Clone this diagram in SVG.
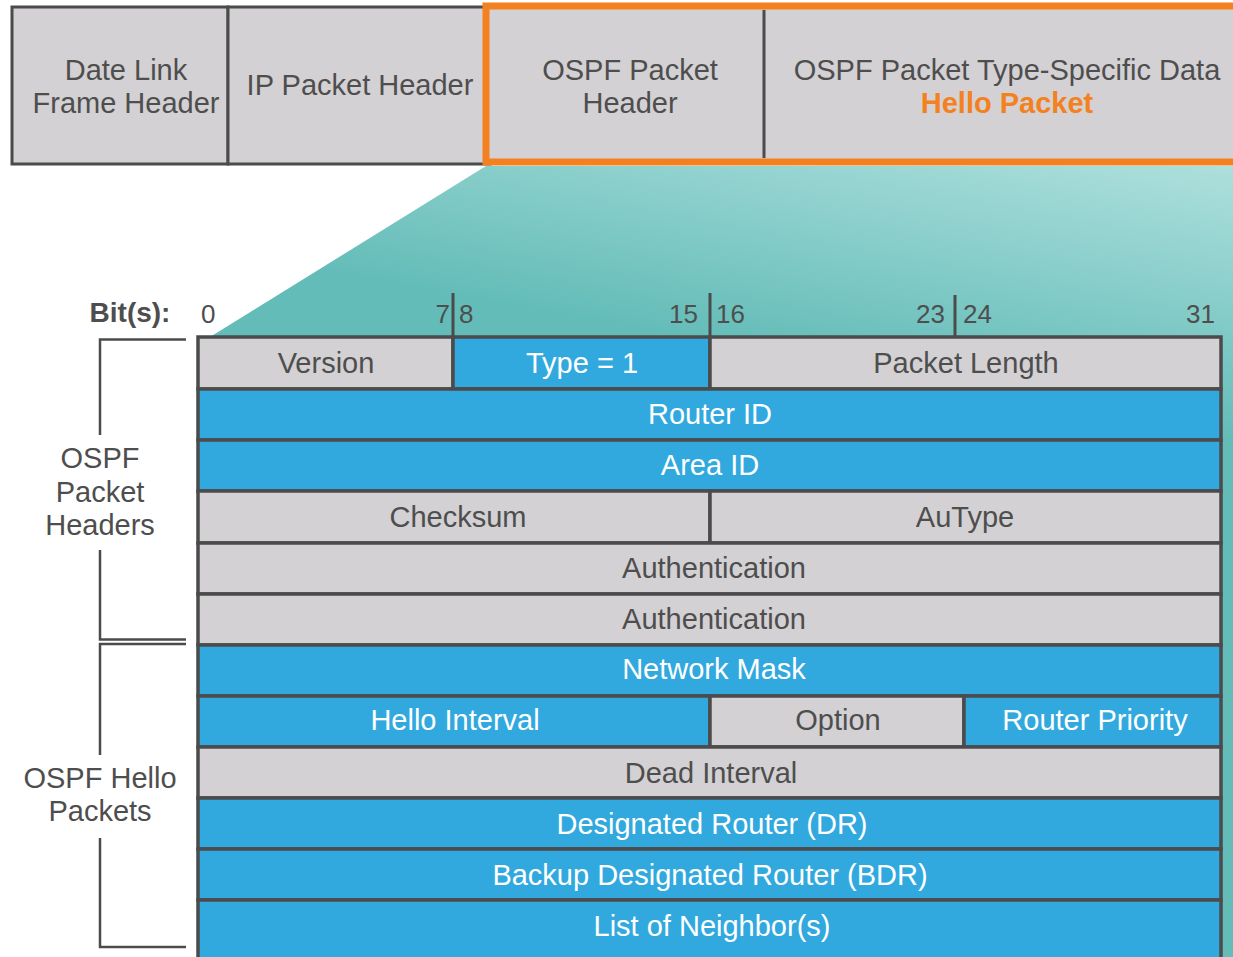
<svg xmlns="http://www.w3.org/2000/svg" width="1233" height="957" viewBox="0 0 1233 957">
<defs>
<linearGradient id="teal" gradientUnits="userSpaceOnUse" x1="1170" y1="150" x2="1120" y2="420">
<stop offset="0" stop-color="#afe0dd"/>
<stop offset="1" stop-color="#63bcb8"/>
</linearGradient>
<style>
text{font-family:"Liberation Sans",Arial,sans-serif;font-size:29px;text-anchor:middle;fill:#4e4e4e}
.w{fill:#ffffff}
.g{fill:#d3d1d3;stroke:#4b4b4b;stroke-width:3.5}
.b{fill:#32a9de;stroke:#4b4b4b;stroke-width:3.5}
.bit{font-size:26px}
.ln{stroke:#4b4b4b;stroke-width:2.5;fill:none}
.tk{stroke:#4b4b4b;stroke-width:3;fill:none}
</style>
</defs>
<rect width="1233" height="957" fill="#ffffff"/>
<polygon id="zoom-wedge" points="486,166 1233,166 1233,957 210,957 210,337" fill="url(#teal)"/>

<g id="top-frame">
<g id="data-link">
<rect x="12" y="7" width="216" height="157" fill="#d3d1d3" stroke="#4b4b4b" stroke-width="3"/>
<text x="126" y="80">Date Link</text>
<text x="126" y="113">Frame Header</text>
</g>
<g id="ip-header">
<rect x="228" y="7" width="262" height="157" fill="#d3d1d3" stroke="#4b4b4b" stroke-width="3"/>
<text x="360" y="95">IP Packet Header</text>
</g>
<g id="ospf-section">
<rect x="486" y="6" width="770" height="156" fill="#d3d1d3" stroke="#f48120" stroke-width="7"/>
<line x1="764" y1="10" x2="764" y2="158" stroke="#4b4b4b" stroke-width="3"/>
<text x="630" y="80">OSPF Packet</text>
<text x="630" y="113">Header</text>
<text x="1007" y="80">OSPF Packet Type-Specific Data</text>
<text x="1007" y="113" style="fill:#f48120;font-weight:bold">Hello Packet</text>
</g>
</g>

<g id="bits">
<text x="130" y="322" style="font-weight:bold;font-size:28px">Bit(s):</text>
<text class="bit" x="201" y="323" style="text-anchor:start">0</text>
<text class="bit" x="450" y="323" style="text-anchor:end">7</text>
<text class="bit" x="459" y="323" style="text-anchor:start">8</text>
<text class="bit" x="698" y="323" style="text-anchor:end">15</text>
<text class="bit" x="716" y="323" style="text-anchor:start">16</text>
<text class="bit" x="945" y="323" style="text-anchor:end">23</text>
<text class="bit" x="963" y="323" style="text-anchor:start">24</text>
<text class="bit" x="1215" y="323" style="text-anchor:end">31</text>
</g>

<g id="connectors">
<line class="tk" x1="453" y1="293" x2="453" y2="337"/>
<line class="tk" x1="710" y1="293" x2="710" y2="337"/>
<line class="tk" x1="955" y1="295" x2="955" y2="337"/>
<polyline class="ln" points="186,339.5 100,339.5 100,435"/>
<polyline class="ln" points="100,550 100,639.5 186,639.5"/>
<polyline class="ln" points="186,644 100,644 100,755"/>
<polyline class="ln" points="100,838 100,947 186,947"/>
</g>

<g id="label-headers">
<text x="100" y="468">OSPF</text>
<text x="100" y="502">Packet</text>
<text x="100" y="535">Headers</text>
</g>
<g id="label-hello">
<text x="100" y="788">OSPF Hello</text>
<text x="100" y="821">Packets</text>
</g>

<g id="table">
<g id="version"><rect class="g" x="198" y="337" width="255" height="52"/><text x="326" y="373">Version</text></g>
<g id="type"><rect class="b" x="453" y="337" width="257" height="52"/><text class="w" x="582" y="373">Type = 1</text></g>
<g id="packet-length"><rect class="g" x="710" y="337" width="511" height="52"/><text x="966" y="373">Packet Length</text></g>
<g id="router-id"><rect class="b" x="198" y="389" width="1023" height="51"/><text class="w" x="710" y="424">Router ID</text></g>
<g id="area-id"><rect class="b" x="198" y="440" width="1023" height="51"/><text class="w" x="710" y="475">Area ID</text></g>
<g id="checksum"><rect class="g" x="198" y="491" width="512" height="52"/><text x="458" y="527">Checksum</text></g>
<g id="autype"><rect class="g" x="710" y="491" width="511" height="52"/><text x="965" y="527">AuType</text></g>
<g id="auth1"><rect class="g" x="198" y="543" width="1023" height="51"/><text x="714" y="578">Authentication</text></g>
<g id="auth2"><rect class="g" x="198" y="594" width="1023" height="51"/><text x="714" y="629">Authentication</text></g>
<g id="network-mask"><rect class="b" x="198" y="645" width="1023" height="51"/><text class="w" x="714" y="679">Network Mask</text></g>
<g id="hello-interval"><rect class="b" x="198" y="696" width="512" height="51"/><text class="w" x="455" y="730">Hello Interval</text></g>
<g id="option"><rect class="g" x="710" y="696" width="254" height="51"/><text x="838" y="730">Option</text></g>
<g id="router-priority"><rect class="b" x="964" y="696" width="257" height="51"/><text class="w" x="1095" y="730">Router Priority</text></g>
<g id="dead-interval"><rect class="g" x="198" y="747" width="1023" height="51"/><text x="711" y="783">Dead Interval</text></g>
<g id="dr"><rect class="b" x="198" y="798" width="1023" height="51"/><text class="w" x="712" y="834">Designated Router (DR)</text></g>
<g id="bdr"><rect class="b" x="198" y="849" width="1023" height="51"/><text class="w" x="710" y="885">Backup Designated Router (BDR)</text></g>
<g id="neighbors"><rect class="b" x="198" y="900" width="1023" height="80"/><text class="w" x="712" y="936">List of Neighbor(s)</text></g>
</g>
</svg>
